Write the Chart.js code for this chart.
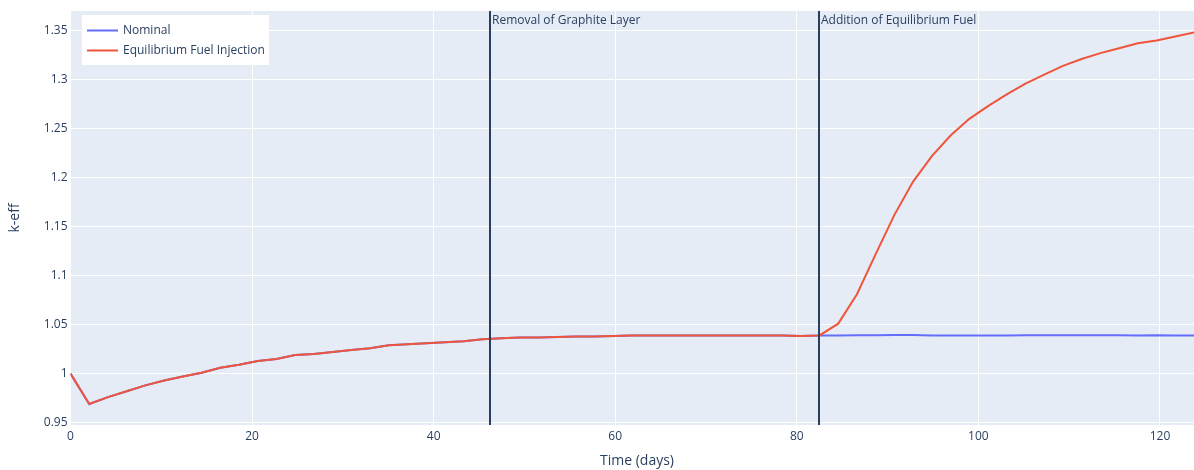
<!DOCTYPE html>
<html>
<head>
<meta charset="utf-8">
<script src="https://cdn.jsdelivr.net/npm/chart.js@4/dist/chart.umd.min.js"></script>
<style>
  html, body { margin: 0; padding: 0; background: #ffffff; }
  #wrap { width: 1194px; height: 470px; position: relative; }
</style>
</head>
<body>
<div id="wrap"><canvas id="c" width="1194" height="470"></canvas></div>
<script>
// ---- data ----
const timeDays = [0, 2.0625, 4.125, 6.1875, 8.25, 10.3125, 12.375, 14.4375, 16.5, 18.5625,
  20.625, 22.6875, 24.75, 26.8125, 28.875, 30.9375, 33, 35.0625, 37.125, 39.1875,
  41.25, 43.3125, 45.375, 47.4375, 49.5, 51.5625, 53.625, 55.6875, 57.75, 59.8125,
  61.875, 63.9375, 66, 68.0625, 70.125, 72.1875, 74.25, 76.3125, 78.375, 80.4375,
  82.5, 84.5625, 86.625, 88.6875, 90.75, 92.8125, 94.875, 96.9375, 99, 101.0625,
  103.125, 105.1875, 107.25, 109.3125, 111.375, 113.4375, 115.5, 117.5625, 119.625, 121.6875,
  123.75];

const nominalKeff = [1.000, 0.969, 0.976, 0.982, 0.988, 0.993, 0.997, 1.001, 1.006, 1.009,
  1.013, 1.015, 1.019, 1.020, 1.022, 1.024, 1.026, 1.029, 1.030, 1.031,
  1.032, 1.033, 1.035, 1.036, 1.037, 1.037, 1.0375, 1.038, 1.038, 1.0385,
  1.039, 1.039, 1.039, 1.039, 1.039, 1.039, 1.039, 1.039, 1.039, 1.0385,
  1.039, 1.039, 1.0392, 1.0392, 1.0393, 1.0393, 1.039, 1.039, 1.039, 1.039,
  1.039, 1.0391, 1.0392, 1.0392, 1.0391, 1.0391, 1.0391, 1.0388, 1.0392, 1.039,
  1.039];

const injectionKeff = [1.000, 0.969, 0.976, 0.982, 0.988, 0.993, 0.997, 1.001, 1.006, 1.009,
  1.013, 1.015, 1.019, 1.020, 1.022, 1.024, 1.026, 1.029, 1.030, 1.031,
  1.032, 1.033, 1.035, 1.036, 1.037, 1.037, 1.0375, 1.038, 1.038, 1.0385,
  1.039, 1.039, 1.039, 1.039, 1.039, 1.039, 1.039, 1.039, 1.039, 1.0385,
  1.039, 1.051, 1.081, 1.122, 1.162, 1.196, 1.222, 1.243, 1.260, 1.273,
  1.285, 1.296, 1.305, 1.314, 1.321, 1.327, 1.332, 1.337, 1.340, 1.344,
  1.348];

const seriesNames = ['Nominal', 'Equilibrium Fuel Injection'];
const seriesColors = ['#636efa', '#EF553B'];

const eventDays = [46.2, 82.45];
const eventLabels = ['Removal of Graphite Layer', 'Addition of Equilibrium Fuel'];

const xTickValues = [0, 20, 40, 60, 80, 100, 120];
const yTickValues = [0.95, 1.0, 1.05, 1.1, 1.15, 1.2, 1.25, 1.3, 1.35];
const xTitle = 'Time (days)';
const yTitle = 'k-eff';

// ---- styling ----
const FONT = '"Open Sans", "Liberation Sans", sans-serif';
const TEXT = '#2a3f5f';
Chart.defaults.font.family = FONT;
Chart.defaults.color = TEXT;

const toXY = (xs, ys) => xs.map((x, i) => ({ x: x, y: ys[i] }));
const fmt = v => String(Math.round(v * 100) / 100);

const bgPlugin = {
  id: 'plotBg',
  beforeDraw(chart) {
    const { ctx, chartArea: a } = chart;
    ctx.save();
    ctx.fillStyle = '#E5ECF6';
    ctx.fillRect(a.left, a.top, a.right - a.left, a.bottom - a.top);
    ctx.restore();
  }
};

const eventPlugin = {
  id: 'events',
  afterDatasetsDraw(chart) {
    const { ctx, chartArea: a, scales } = chart;
    ctx.save();
    eventDays.forEach((d, i) => {
      const px = Math.round(scales.x.getPixelForValue(d));
      ctx.strokeStyle = '#2a3f5f';
      ctx.lineWidth = 2;
      ctx.beginPath();
      ctx.moveTo(px, a.top);
      ctx.lineTo(px, a.bottom);
      ctx.stroke();
      ctx.fillStyle = TEXT;
      ctx.font = '12px ' + FONT;
      ctx.textAlign = 'left';
      ctx.textBaseline = 'middle';
      ctx.fillText(eventLabels[i], px + 2, a.top + 10);
    });
    ctx.restore();
  }
};

const xTitlePlugin = {
  id: 'xTitle',
  afterDraw(chart) {
    const { ctx } = chart;
    ctx.save();
    ctx.fillStyle = TEXT;
    ctx.font = '14px ' + FONT;
    ctx.textAlign = 'center';
    ctx.textBaseline = 'middle';
    ctx.fillText(xTitle, 637, 461.5);
    ctx.restore();
  }
};

const legendPlugin = {
  id: 'floatLegend',
  afterDraw(chart) {
    const { ctx } = chart;
    ctx.save();
    ctx.fillStyle = '#ffffff';
    ctx.fillRect(82, 15, 187, 50);
    seriesNames.forEach((name, i) => {
      const y = 30.5 + i * 20;
      ctx.strokeStyle = seriesColors[i];
      ctx.lineWidth = 2;
      ctx.beginPath();
      ctx.moveTo(87, y);
      ctx.lineTo(118, y);
      ctx.stroke();
      ctx.fillStyle = TEXT;
      ctx.font = '12px ' + FONT;
      ctx.textAlign = 'left';
      ctx.textBaseline = 'middle';
      ctx.fillText(name, 123, y);
    });
    ctx.restore();
  }
};

new Chart(document.getElementById('c'), {
  type: 'line',
  data: {
    datasets: [
      {
        label: seriesNames[0],
        data: toXY(timeDays, nominalKeff),
        borderColor: seriesColors[0],
        backgroundColor: seriesColors[0],
        borderWidth: 2,
        pointRadius: 0,
        tension: 0,
        order: 1
      },
      {
        label: seriesNames[1],
        data: toXY(timeDays, injectionKeff),
        borderColor: seriesColors[1],
        backgroundColor: seriesColors[1],
        borderWidth: 2,
        pointRadius: 0,
        tension: 0,
        order: 0
      }
    ]
  },
  options: {
    responsive: false,
    animation: false,
    devicePixelRatio: 1,
    layout: { padding: { top: 11, left: 0, right: 0, bottom: 0 } },
    plugins: {
      legend: { display: false },
      tooltip: { enabled: false }
    },
    scales: {
      x: {
        type: 'linear',
        min: 0,
        max: 123.75,
        afterBuildTicks: s => { s.ticks = xTickValues.map(v => ({ value: v })); },
        afterFit: s => { s.height = 45; },
        grid: { color: '#ffffff', lineWidth: 1, drawTicks: false },
        border: { display: false },
        ticks: {
          padding: 4,
          maxRotation: 0,
          autoSkip: false,
          font: { size: 12, family: FONT },
          color: TEXT,
          callback: v => fmt(v)
        },
        title: { display: false }
      },
      y: {
        type: 'linear',
        min: 0.9476,
        max: 1.370,
        afterBuildTicks: s => { s.ticks = yTickValues.map(v => ({ value: v })); },
        afterFit: s => { s.width = 70.5; },
        grid: { color: '#ffffff', lineWidth: 1, drawTicks: false },
        border: { display: false },
        ticks: {
          padding: 3,
          autoSkip: false,
          font: { size: 12, family: FONT },
          color: TEXT,
          callback: v => fmt(v)
        },
        title: {
          display: true,
          text: yTitle,
          font: { size: 14, family: FONT },
          color: TEXT,
          padding: { top: 7, bottom: 0 }
        }
      }
    }
  },
  plugins: [bgPlugin, eventPlugin, xTitlePlugin, legendPlugin]
});
</script>
</body>
</html>
